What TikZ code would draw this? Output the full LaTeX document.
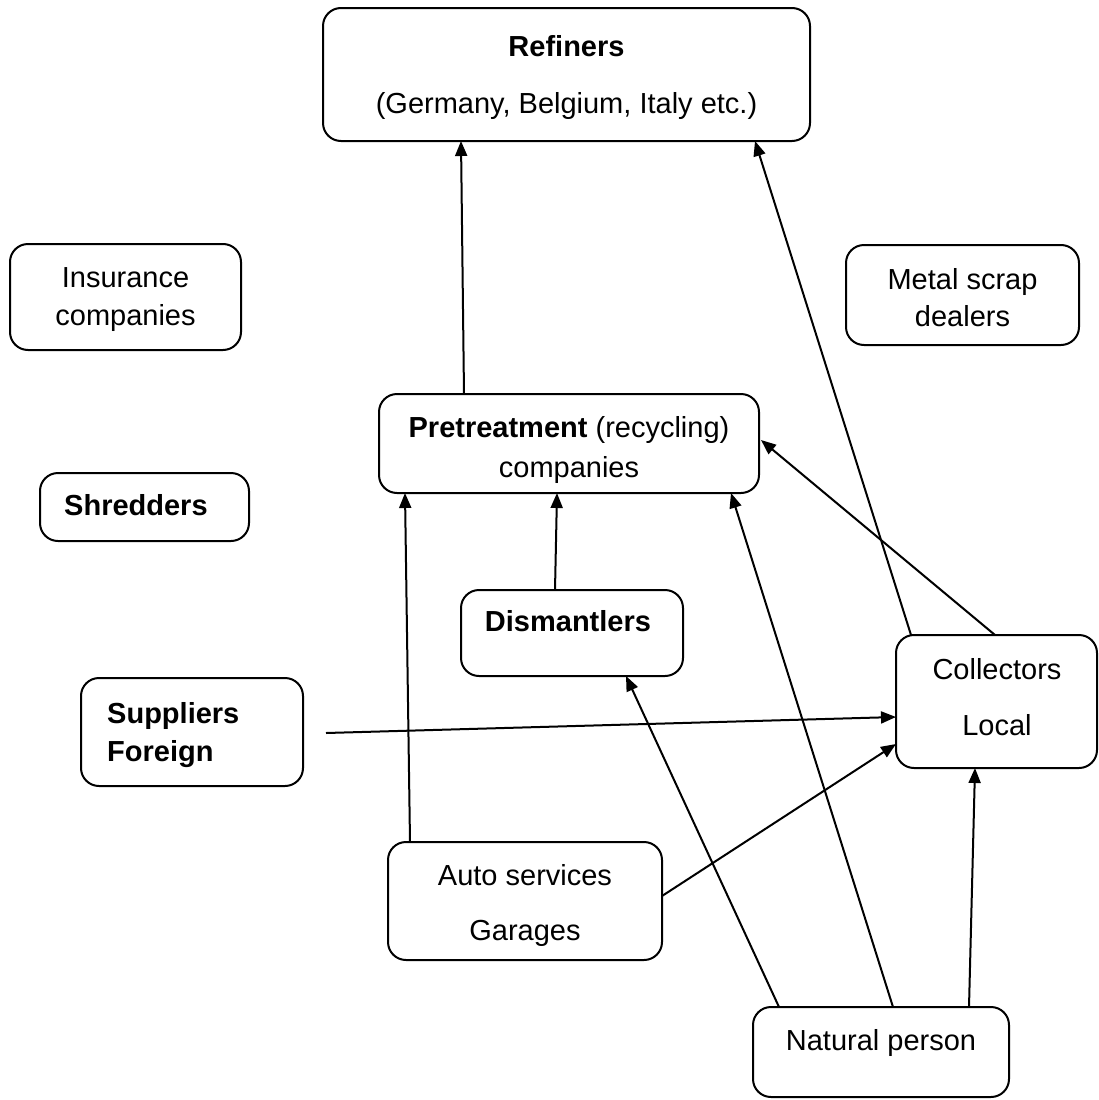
\documentclass[tikz,border=0pt]{standalone}
\usepackage{fontspec}
\setmainfont{Liberation Sans}
\usetikzlibrary{arrows.meta,calc}
\newcommand\myfs{\fontsize{29}{35}\selectfont}
\begin{document}
\begin{tikzpicture}[x=1pt,y=-1pt,
 box/.style={draw,line width=2pt,rounded corners=18pt,inner sep=0pt,outer sep=0pt},
 txt/.style={inner sep=0pt,anchor=base,font=\myfs},
 ltxt/.style={inner sep=0pt,anchor=base west,font=\myfs},
 arr/.style={line width=2pt,-{Triangle[length=15pt,width=12pt]}}]
\useasboundingbox (0,0) rectangle (1098,1100);
% boxes
\node[box,minimum width=487,minimum height=133] (ref) at (566.5,74.5) {};
\node[box,minimum width=231,minimum height=106] (ins) at (125.5,297) {};
\node[box,minimum width=233,minimum height=100] (met) at (962.5,295) {};
\node[box,minimum width=380,minimum height=99] (pre) at (569,443.5) {};
\node[box,minimum width=209,minimum height=68] (shr) at (144.5,507) {};
\node[box,minimum width=222,minimum height=86] (dis) at (572,633) {};
\node[box,minimum width=201,minimum height=133] (col) at (996.5,701.5) {};
\node[box,minimum width=222,minimum height=108] (sup) at (192,732) {};
\node[box,minimum width=274,minimum height=118] (aut) at (525,901) {};
\node[box,minimum width=256,minimum height=90] (nat) at (881,1052) {};
% texts
\node[txt] (reft1) at (566.5,56) {\bfseries Refiners};
\node[txt] (reft2) at (566.5,113) {(Germany, Belgium, Italy etc.)};
\node[txt] (inst1) at (125.5,287) {Insurance};
\node[txt] (inst2) at (125.5,325) {companies};
\node[txt] (mett1) at (962.5,289) {Metal scrap};
\node[txt] (mett2) at (962.5,326) {dealers};
\node[txt] (pret1) at (569,437) {\textbf{Pretreatment} (recycling)};
\node[txt] (pret2) at (569,477) {companies};
\node[ltxt] (shrt) at (64,515) {\bfseries Shredders};
\node[txt] (dist) at (568,631) {\bfseries Dismantlers};
\node[txt] (colt1) at (997,679) {Collectors};
\node[txt] (colt2) at (997,735) {Local};
\node[ltxt] (supt1) at (107,723) {\bfseries Suppliers};
\node[ltxt] (supt2) at (107,761) {\bfseries Foreign};
\node[txt] (autt1) at (525,885) {Auto services};
\node[txt] (autt2) at (525,940) {Garages};
\node[txt] (natt) at (881,1050) {Natural person};
% connectors
\coordinate (supend) at ($(sup.east)+(23,1)$);
\draw[arr] ($(pre.north west)+(85,0)$) -- ($(ref.south west)+(138,0)$);
\draw[arr] ($(col.north west)+(15,0)$) -- ($(ref.south east)+(-55,0)$);
\draw[arr] ($(col.north west)+(99,0)$) -- ($(pre.north east)+(2,46)$);
\draw[arr] ($(dis.north west)+(94,0)$) -- ($(pre.south west)+(178,0)$);
\draw[arr] ($(aut.north west)+(22,0)$) -- ($(pre.south west)+(26,0)$);
\draw[arr] ($(nat.north west)+(140,0)$) -- ($(pre.south east)+(-28,0)$);
\draw[arr] ($(nat.north west)+(26,0)$) -- ($(dis.south west)+(165,0)$);
\draw[arr] ($(nat.north west)+(216,0)$) -- ($(col.south west)+(79,0)$);
\draw[arr] (supend) -- ($(col.north west)+(0,82)$);
\draw[arr] ($(aut.north east)+(0,54)$) -- ($(col.north west)+(0,109)$);
\end{tikzpicture}
\end{document}
